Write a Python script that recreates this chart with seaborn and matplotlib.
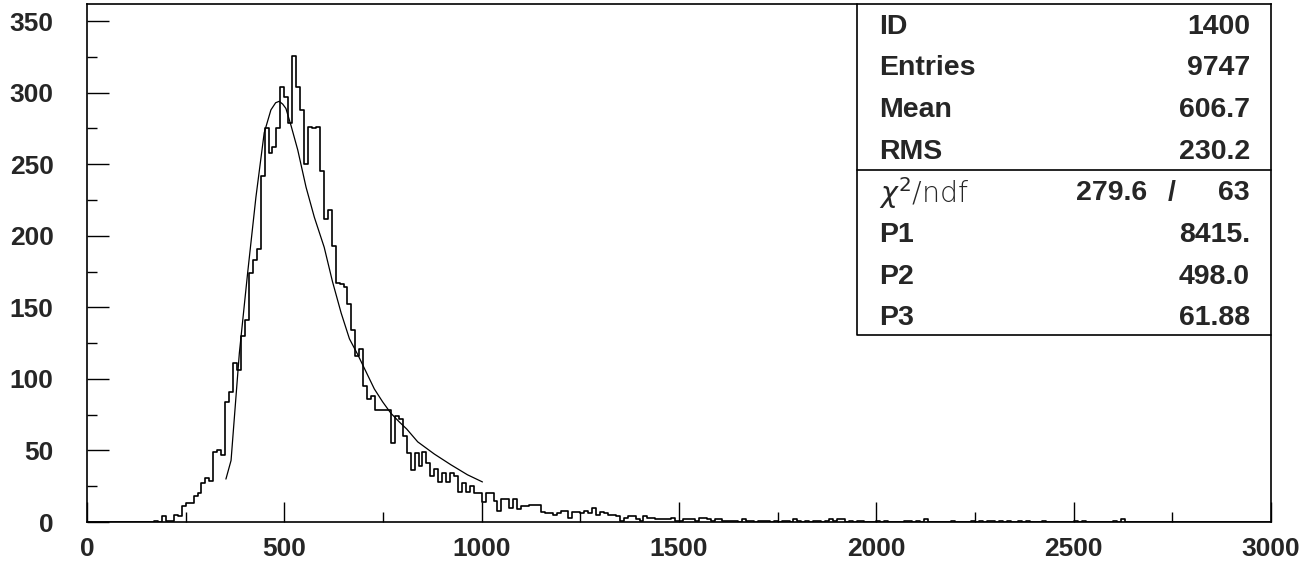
import numpy as np
import pandas as pd
import matplotlib
matplotlib.use("Agg")
import matplotlib.pyplot as plt
import seaborn as sns
from matplotlib.ticker import MultipleLocator

# histogram: 300 bins of width 10 on [0, 3000]
BIN_W = 10
dense_start = 160
dense_counts = [
    0, 1, 0, 4, 1, 1, 5, 4, 11, 13,            # 160-250
    13, 18, 20, 27, 31, 29, 49, 50, 47, 84,    # 260-350
    91, 111, 106, 130, 141, 174, 183, 191, 242, 275,   # 360-450
    258, 262, 275, 304, 297, 279, 326, 304, 288, 250,  # 460-550
    276, 275, 276, 245, 212, 218, 193, 167, 166, 164,  # 560-650
    152, 134, 116, 121, 95, 86, 88, 78, 78, 78,        # 660-750
    78, 55, 74, 72, 60, 48, 36, 48, 39, 49,            # 760-850
    41, 32, 37, 28, 34, 28, 34, 32, 21, 27,            # 860-950
    21, 25, 20, 20, 14, 20, 20, 15, 8, 16,             # 960-1050
    16, 10, 16, 9, 11, 11, 12, 12, 12, 7,              # 1060-1150
    6, 6, 5, 6, 8, 8, 3, 7, 7, 6,                      # 1160-1250
    8, 6, 10, 5, 7, 6, 5, 5, 4, 1,                     # 1260-1350
    3, 4, 4, 2, 1, 4, 3, 3, 2, 2,                      # 1360-1450
    2, 2, 3, 1, 1, 2, 2, 2, 1, 3,                      # 1460-1550
    3, 2, 1, 2, 2, 1, 1, 1, 1, 0,                      # 1560-1650
    2, 1, 1, 0, 1, 1,                                  # 1660-1710
]
sparse_bins = [1720, 1740, 1760, 1770, 1790, 1800, 1820, 1840, 1850, 1870,
               1880, 1890, 1900, 1910, 1930, 1950, 1960, 2000, 2020, 2070,
               2080, 2100, 2120, 2190, 2240, 2260, 2280, 2290, 2310, 2330,
               2360, 2380, 2420, 2500, 2520, 2600, 2620]
sparse_counts = [1, 1, 1, 1, 2, 1, 1, 1, 1, 1,
                 2, 1, 2, 2, 1, 1, 1, 1, 1, 1,
                 1, 1, 2, 1, 1, 1, 1, 1, 1, 1,
                 1, 1, 1, 1, 1, 1, 2]

# fitted Landau curve
fit_x = [352, 365, 386, 407, 428, 449, 466, 478, 487, 496, 504, 517, 534, 555,
         576, 601, 622, 644, 665, 686, 707, 728, 749, 770, 791, 810, 838, 880,
         922, 964, 1002]
fit_y = [30, 43, 118, 174, 227, 272, 288, 293, 294, 292, 289, 277, 260, 234,
         213, 192, 168, 146, 128, 117, 105, 93, 84, 76, 70, 65, 56, 47.5,
         40, 33, 28]

stats_labels = ["ID", "Entries", "Mean", "RMS"]
stats_values = ["1400", "9747", "606.7", "230.2"]
fit_labels = ["P1", "P2", "P3"]
fit_values = ["8415.", "498.0", "61.88"]
chi2_value = "279.6"
ndf_value = "63"

# build the histogram table
lefts = [dense_start + BIN_W * i for i in range(len(dense_counts))] + sparse_bins
counts = dense_counts + sparse_counts
hist = pd.DataFrame({"x": np.array(lefts) + BIN_W / 2, "n": counts})
fit = pd.DataFrame({"x": fit_x, "y": fit_y})

sns.set_style("ticks")
plt.rcParams["font.family"] = ["Liberation Sans", "DejaVu Sans"]

fig = plt.figure(figsize=(13.14, 5.67), dpi=100)
ax = fig.add_axes([87 / 1314, 45 / 567, 1184 / 1314, 518 / 567])

sns.histplot(data=hist, x="x", weights="n", bins=300, binrange=(0, 3000),
             element="step", fill=False, color="black", linewidth=1.2, ax=ax)
sns.lineplot(data=fit, x="x", y="y", color="black", linewidth=0.9, ax=ax)

ax.set_xlim(0, 3000)
ax.set_ylim(0, 362)
ax.set_xlabel("")
ax.set_ylabel("")
ax.xaxis.set_major_locator(MultipleLocator(500))
ax.xaxis.set_minor_locator(MultipleLocator(250))
ax.yaxis.set_major_locator(MultipleLocator(50))
ax.yaxis.set_minor_locator(MultipleLocator(25))
ax.tick_params(axis="both", which="both", direction="in", color="black",
               width=1.0, top=False, right=False)
ax.tick_params(axis="x", which="major", length=14.5, pad=11, labelsize=19)
ax.tick_params(axis="x", which="minor", length=7.2)
ax.tick_params(axis="y", which="major", length=15.8, pad=24, labelsize=19)
ax.tick_params(axis="y", which="minor", length=7.2)
for lab in ax.get_xticklabels() + ax.get_yticklabels():
    lab.set_fontweight("bold")
for sp in ax.spines.values():
    sp.set_visible(True)
    sp.set_linewidth(1.2)
    sp.set_color("black")

# stats box
x0, x1 = (857 - 87) / 1184, 1.0
y_bot, y_sep = (522 - 335) / 518, (522 - 169.5) / 518
ax.plot([x0, x0, x1], [1, y_bot, y_bot], transform=ax.transAxes,
        color="black", lw=1.2, clip_on=False)
ax.plot([x0, x1], [y_sep, y_sep], transform=ax.transAxes,
        color="black", lw=1.2, clip_on=False)

xl, xr = (879 - 87) / 1184, (1250 - 87) / 1184
rows_px = [26.7, 68.3, 110, 151.7, 193, 235, 276.7, 318.3]
ry = [(522 - r) / 518 for r in rows_px]
txt = dict(transform=ax.transAxes, fontsize=20.5, fontweight="bold", va="center")
for i, (lab, val) in enumerate(zip(stats_labels, stats_values)):
    ax.text(xl, ry[i], lab, ha="left", **txt)
    ax.text(xr, ry[i], val, ha="right", **txt)
ax.text(xl, ry[4], r"$\chi^2$/ndf", ha="left", va="center", fontsize=20.5,
        fontweight="light", family=["DejaVu Sans"], transform=ax.transAxes)
ax.text((1147 - 87) / 1184, ry[4], chi2_value, ha="right", **txt)
ax.text((1172 - 87) / 1184, ry[4], "/", ha="center", **txt)
ax.text(xr, ry[4], ndf_value, ha="right", **txt)
for i, (lab, val) in enumerate(zip(fit_labels, fit_values)):
    ax.text(xl, ry[5 + i], lab, ha="left", **txt)
    ax.text(xr, ry[5 + i], val, ha="right", **txt)

fig.savefig("out.png", dpi=100)
